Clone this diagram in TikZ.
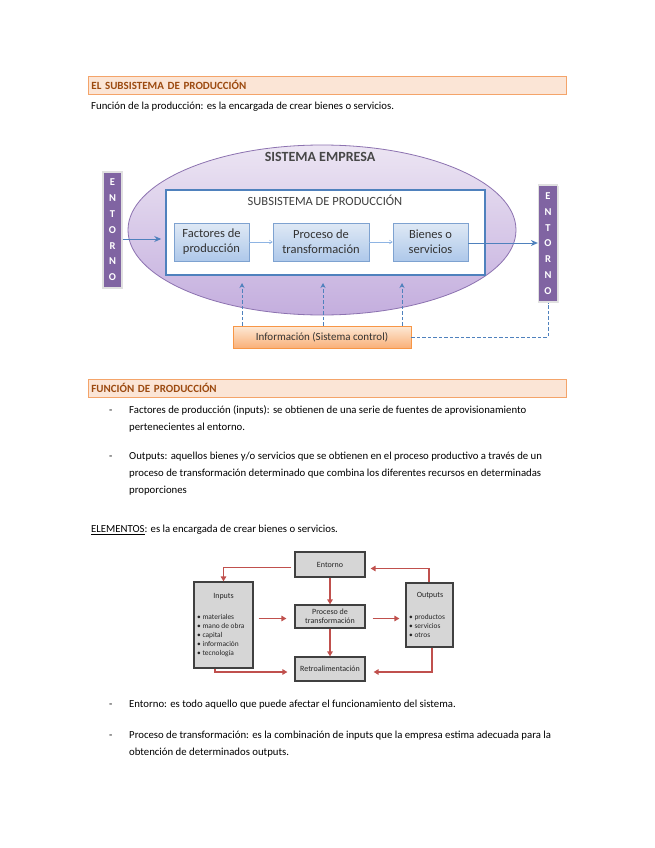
\documentclass[tikz,border=0pt]{standalone}
\usepackage{fontspec}
\setmainfont{Carlito}
\usetikzlibrary{arrows.meta,shadows,positioning,shapes.geometric}
\definecolor{hdrfill}{HTML}{FBE5D6}
\definecolor{hdrdraw}{HTML}{F4A46A}
\definecolor{hdrtext}{HTML}{9C4A10}
\definecolor{elltop}{HTML}{ECE5F3}
\definecolor{ellbot}{HTML}{C4AEDE}
\definecolor{elldraw}{HTML}{8C72B0}
\definecolor{subblue}{HTML}{4F81BD}
\definecolor{boxtop}{HTML}{DFE9F5}
\definecolor{boxbot}{HTML}{AEC8EA}
\definecolor{boxdraw}{HTML}{7EA2D0}
\definecolor{barpurple}{HTML}{8064A2}
\definecolor{infotop}{HTML}{FDE9D6}
\definecolor{infobot}{HTML}{F9B078}
\definecolor{infodraw}{HTML}{F79646}
\definecolor{greyfill}{HTML}{D6D6D6}
\definecolor{greydraw}{HTML}{404040}
\definecolor{redarrow}{HTML}{C0504D}
\definecolor{bodytext}{HTML}{000000}
\definecolor{thinblue}{HTML}{8EB4E3}
\begin{document}
\begin{tikzpicture}[x=1pt,y=-1pt,
  hdr/.style={draw=hdrdraw,fill=hdrfill,line width=0.8pt,minimum height=18pt,text width=472pt,inner xsep=3pt,inner ysep=0pt,align=left,anchor=west,font=\fontsize{11}{12}\selectfont\bfseries,text=hdrtext},
  body/.style={anchor=base west,inner sep=0pt,font=\fontsize{10.75}{12}\selectfont,text=bodytext},
  dashmark/.style={anchor=base west,inner sep=0pt,font=\fontsize{10.75}{12}\selectfont,text=bodytext},
  bar/.style={fill=barpurple,draw=black!12,line width=1.2pt,text=white,align=center,inner sep=0pt,minimum width=19pt,font=\fontsize{10.5}{15.8}\selectfont\bfseries,drop shadow={opacity=0.2,shadow xshift=1pt,shadow yshift=-1pt}},
  stepbox/.style={draw=boxdraw,top color=boxtop,bottom color=boxbot,line width=0.6pt,align=center,inner sep=0pt,minimum height=38pt,font=\fontsize{12.5}{15}\selectfont,text=black!80,drop shadow={opacity=0.25,shadow xshift=1pt,shadow yshift=-1pt}},
  bluearrow/.style={draw=subblue,line width=1pt,-{Stealth[length=7pt,width=6pt]}},
  thinarrow/.style={draw=thinblue,line width=0.5pt,-{Straight Barb[length=3pt,width=4pt]}},
  dasharrow/.style={draw=subblue,line width=1pt,dash pattern=on 3.5pt off 2pt,-{Stealth[length=5pt,width=5pt]}},
  dashline/.style={draw=subblue,line width=1pt,dash pattern=on 3.5pt off 2pt},
  gbox/.style={draw=greydraw,fill=greyfill,line width=1.2pt,align=center,inner sep=0pt,font=\fontsize{8}{9}\selectfont,text=black!85},
  redarr/.style={draw=redarrow,line width=1.3pt,-{Triangle[length=5pt,width=5.5pt]}},
  listtext/.style={anchor=north west,inner sep=0pt,align=left,font=\fontsize{7.4}{9}\selectfont,text=black!85}
]
\useasboundingbox[fill=white] (0,0) rectangle (655,848);

% ---------- Header 1 ----------
\node[hdr] (h1) at (88,85) {EL SUBSISTEMA DE PRODUCCIÓN};
\node[body] (t1) at (91,109.5) {Función de la producción: es la encargada de crear bienes o servicios.};

% ---------- Diagram 1 ----------
\node[ellipse,draw=elldraw,line width=0.8pt,top color=elltop,bottom color=ellbot,minimum width=388pt,minimum height=170pt,inner sep=0pt] (ell) at (322,230) {};
\node[font=\fontsize{14}{15}\selectfont\bfseries,text=black!72,inner sep=0pt] (sysname) at (320,157) {SISTEMA EMPRESA};
\node[draw=subblue,fill=white,line width=1.5pt,minimum width=319pt,minimum height=85pt,inner sep=0pt] (sub) at (325.5,232.5) {};
\node[font=\fontsize{12.5}{15}\selectfont,text=black!75,inner sep=0pt] (subname) at (325,200) {SUBSISTEMA DE PRODUCCIÓN};

\node[stepbox,minimum width=75pt] (fac) at (211.5,242) {Factores de\\producción};
\node[stepbox,minimum width=96pt] (pro) at (321,242) {Proceso de\\transformación};
\node[stepbox,minimum width=75pt] (bie) at (430.5,242) {Bienes o\\servicios};

\node[bar,minimum height=116pt] (entL) at (112.5,230) {E\\N\\T\\O\\R\\N\\O};
\node[bar,minimum height=117pt] (entR) at (548,243.5) {E\\N\\T\\O\\R\\N\\O};

\draw[bluearrow,shorten >=4pt] (entL.east |- 0,239) -- (sub.west |- 0,239);
\draw[bluearrow] (bie.east |- 0,243) -- (entR.west |- 0,243);
\draw[thinarrow] (fac) -- (pro);
\draw[thinarrow] (pro) -- (bie);

\node[draw=infodraw,top color=infotop,bottom color=infobot,line width=0.7pt,minimum width=178pt,minimum height=22pt,inner sep=0pt,font=\fontsize{11}{13}\selectfont,text=black!80,drop shadow={opacity=0.25,shadow xshift=1pt,shadow yshift=-1pt}] (info) at (322,337) {Información (Sistema control)};

\coordinate (u1) at (242,283);
\coordinate (u2) at (323,283);
\coordinate (u3) at (402,283);
\draw[dasharrow] (info.north -| u1) -- (u1);
\draw[dasharrow] (info.north -| u2) -- (u2);
\draw[dasharrow] (info.north -| u3) -- (u3);
\draw[dashline] (info.east) -| (entR.south);

% ---------- Header 2 ----------
\node[hdr] (h2) at (88,388) {FUNCIÓN DE PRODUCCIÓN};

\node[dashmark] (d1) at (109,413.5) {-};
\node[body] (b1a) at (129,413.5) {Factores de producción (inputs): se obtienen de una serie de fuentes de aprovisionamiento};
\node[body] (b1b) at (129,430.5) {pertenecientes al entorno.};
\node[dashmark] (d2) at (109,459.5) {-};
\node[body] (b2a) at (129,459.5) {Outputs: aquellos bienes y/o servicios que se obtienen en el proceso productivo a través de un};
\node[body] (b2b) at (129,476.5) {proceso de transformación determinado que combina los diferentes recursos en determinadas};
\node[body] (b2c) at (129,493.5) {proporciones};

\node[body] (elem) at (91,532.5) {\underline{ELEMENTOS}: es la encargada de crear bienes o servicios.};

% ---------- Diagram 2 ----------
\node[gbox,minimum width=70pt,minimum height=25pt] (ent) at (330,564.5) {Entorno};
\node[gbox,minimum width=59pt,minimum height=86pt] (inp) at (223.5,625) {};
\node[gbox,minimum width=70pt,minimum height=23pt] (prc) at (330,616.5) {Proceso de\\transformación};
\node[gbox,minimum width=70pt,minimum height=24pt] (ret) at (330,669) {Retroalimentación};
\node[gbox,minimum width=47pt,minimum height=64pt] (out) at (429.5,615) {};

\node[inner sep=0pt,font=\fontsize{8}{9}\selectfont,text=black!85] (inpt) at (223.5,597) {Inputs};
\node[listtext] (inpl) at (197,614) {• materiales\\• mano de obra\\• capital\\• información\\• tecnología};
\node[inner sep=0pt,font=\fontsize{8}{9}\selectfont,text=black!85] (outt) at (430,596) {Outputs};
\node[listtext] (outl) at (409,614) {• productos\\• servicios\\• otros};

\coordinate (ix) at (215,0);
\coordinate (ox1) at (429,0);
\coordinate (ox2) at (432,0);
\draw[redarr,shorten <=3pt] ([yshift=-3pt]ent.west) -| (inp.north);
\draw[redarr] (ent.south) -- (prc.north);
\draw[redarr] (prc.south) -- (ret.north);
\draw[redarr,shorten <=5pt,shorten >=8pt] ([yshift=-2pt]prc.west -| inp.east) -- ([yshift=-2pt]prc.west);
\draw[redarr,shorten <=7pt,shorten >=6pt] ([yshift=-2pt]prc.east) -- ([yshift=-2pt]prc.east -| out.west);
\draw[redarr,shorten >=7pt] (inp.south -| ix) |- ([yshift=-3pt]ret.west);
\draw[redarr,shorten >=5pt] (out.north -| ox1) |- ([yshift=-4pt]ent.east);
\draw[redarr,shorten >=8pt] (out.south -| ox2) |- ([yshift=-3pt]ret.east);

% ---------- Bottom bullets ----------
\node[dashmark] (d3) at (109,707) {-};
\node[body] (b3a) at (129,707) {Entorno: es todo aquello que puede afectar el funcionamiento del sistema.};
\node[dashmark] (d4) at (109,738.5) {-};
\node[body] (b4a) at (129,738.5) {Proceso de transformación: es la combinación de inputs que la empresa estima adecuada para la};
\node[body] (b4b) at (129,755.5) {obtención de determinados outputs.};
\end{tikzpicture}
\end{document}
